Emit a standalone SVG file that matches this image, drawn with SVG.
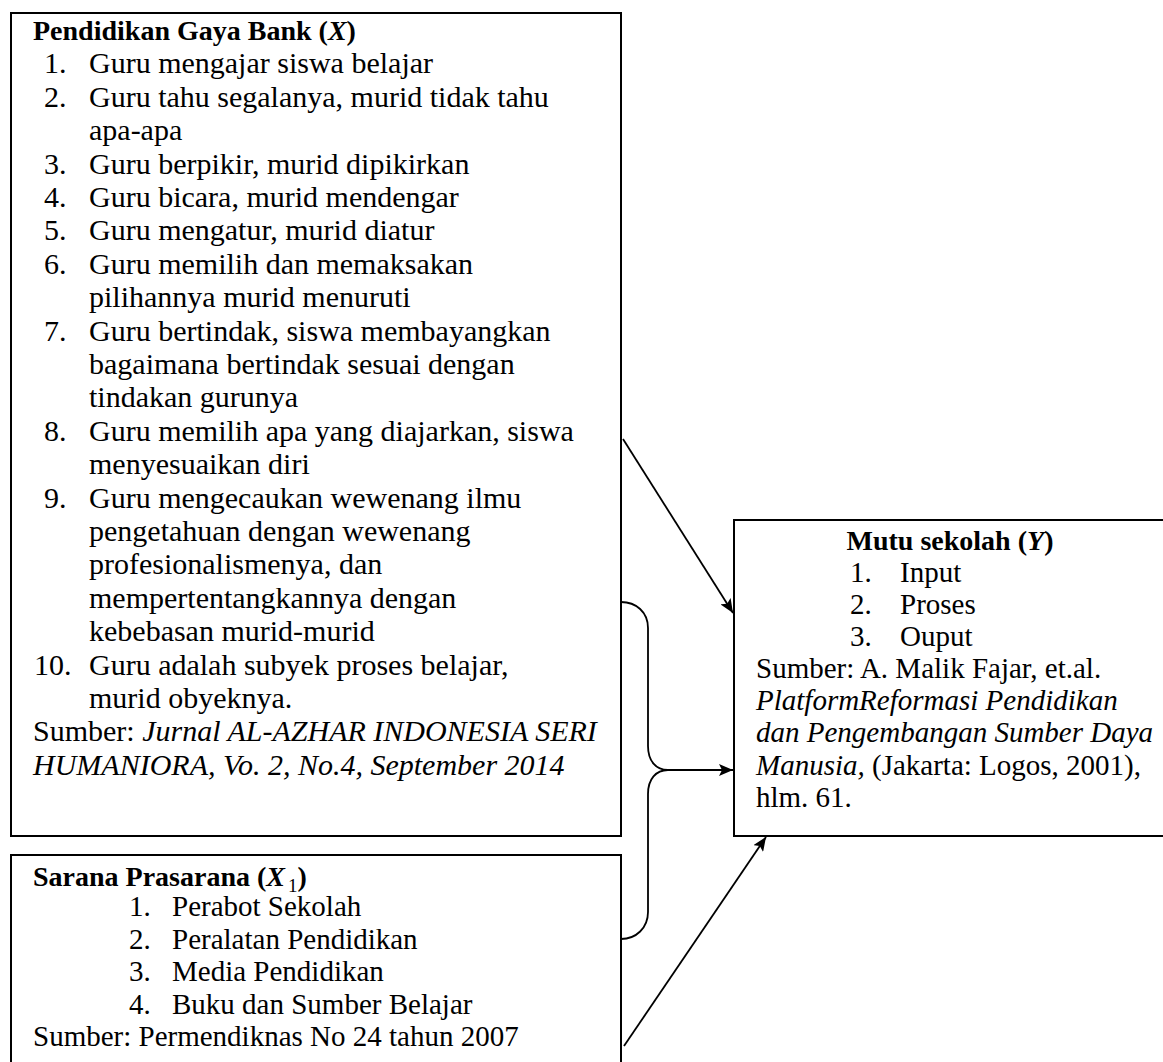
<svg xmlns="http://www.w3.org/2000/svg" width="1163" height="1062" viewBox="0 0 1163 1062">
<style>
.box{fill:#fff;stroke:#000;stroke-width:2}
text{font-family:"Liberation Serif","Times New Roman",serif;fill:#000}
.b1{font-size:30px}
.m{font-size:29px}
.t{font-size:28px;font-weight:bold}
.i{font-style:italic}
.con{fill:none;stroke:#000;stroke-width:1.8}
</style>
<defs>
<marker id="ah" markerUnits="userSpaceOnUse" markerWidth="16" markerHeight="12" refX="14" refY="6" orient="auto">
<path d="M0,0 L14,6 L0,12 L3,6 Z" fill="#000"/>
</marker>
</defs>
<rect width="1163" height="1062" fill="#fff"/>
<g id="node-x">
<rect class="box" x="11" y="13" width="610" height="823"/>
<text class="t" x="33" y="40">Pendidikan Gaya Bank (<tspan class="i">X</tspan>)</text>
<g class="b1">
<text x="44" y="73.4">1.</text><text x="89" y="73.4">Guru mengajar siswa belajar</text>
<text x="44" y="106.8">2.</text><text x="89" y="106.8">Guru tahu segalanya, murid tidak tahu</text>
<text x="89" y="140.2">apa-apa</text>
<text x="44" y="173.6">3.</text><text x="89" y="173.6">Guru berpikir, murid dipikirkan</text>
<text x="44" y="207">4.</text><text x="89" y="207">Guru bicara, murid mendengar</text>
<text x="44" y="240.4">5.</text><text x="89" y="240.4">Guru mengatur, murid diatur</text>
<text x="44" y="273.8">6.</text><text x="89" y="273.8">Guru memilih dan memaksakan</text>
<text x="89" y="307.2">pilihannya murid menuruti</text>
<text x="44" y="340.6">7.</text><text x="89" y="340.6">Guru bertindak, siswa membayangkan</text>
<text x="89" y="374">bagaimana bertindak sesuai dengan</text>
<text x="89" y="407.4">tindakan gurunya</text>
<text x="44" y="440.8">8.</text><text x="89" y="440.8">Guru memilih apa yang diajarkan, siswa</text>
<text x="89" y="474.2">menyesuaikan diri</text>
<text x="44" y="507.6">9.</text><text x="89" y="507.6">Guru mengecaukan wewenang ilmu</text>
<text x="89" y="541">pengetahuan dengan wewenang</text>
<text x="89" y="574.4">profesionalismenya, dan</text>
<text x="89" y="607.8">mempertentangkannya dengan</text>
<text x="89" y="641.2">kebebasan murid-murid</text>
<text x="34" y="674.6">10.</text><text x="89" y="674.6">Guru adalah subyek proses belajar,</text>
<text x="89" y="708">murid obyeknya.</text>
<text x="33" y="741.4">Sumber: <tspan class="i">Jurnal AL-AZHAR INDONESIA SERI</tspan></text>
<text x="33" y="774.8" class="i">HUMANIORA, Vo. 2, No.4, September 2014</text>
</g>
</g>
<g id="node-x1">
<rect class="box" x="11" y="855" width="610" height="220"/>
<text class="t" x="33" y="886">Sarana Prasarana (<tspan class="i">X</tspan><tspan font-weight="normal" font-size="19" dx="3" dy="6">1</tspan><tspan dy="-6">)</tspan></text>
<g class="m">
<text x="129" y="916">1.</text><text x="172" y="916">Perabot Sekolah</text>
<text x="129" y="948.5">2.</text><text x="172" y="948.5">Peralatan Pendidikan</text>
<text x="129" y="981">3.</text><text x="172" y="981">Media Pendidikan</text>
<text x="129" y="1013.5">4.</text><text x="172" y="1013.5">Buku dan Sumber Belajar</text>
<text x="33" y="1046">Sumber: Permendiknas No 24 tahun 2007</text>
</g>
</g>
<g id="node-y">
<rect class="box" x="734" y="520" width="440" height="316"/>
<text class="t" x="950" y="550" text-anchor="middle">Mutu sekolah (<tspan class="i">Y</tspan>)</text>
<g class="m">
<text x="850" y="582">1.</text><text x="900" y="582">Input</text>
<text x="850" y="614">2.</text><text x="900" y="614">Proses</text>
<text x="850" y="646">3.</text><text x="900" y="646">Ouput</text>
<text x="756" y="678">Sumber: A. Malik Fajar, et.al.</text>
<text x="756" y="710" class="i">PlatformReformasi Pendidikan</text>
<text x="756" y="742" class="i">dan Pengembangan Sumber Daya</text>
<text x="756" y="775"><tspan class="i">Manusia,</tspan> (Jakarta: Logos, 2001),</text>
<text x="756" y="807">hlm. 61.</text>
</g>
</g>
<g id="connectors">
<line class="con" x1="623" y1="439" x2="733" y2="613" marker-end="url(#ah)"/>
<path class="con" d="M621,602 C636,602 648,612 648,628 L648,746 C648,761 656,770 668,770 C656,770 648,779 648,794 L648,912 C648,928 636,939 621,939"/>
<line class="con" x1="668" y1="770" x2="733" y2="770" marker-end="url(#ah)"/>
<line class="con" x1="624" y1="1046" x2="766" y2="837" marker-end="url(#ah)"/>
</g>
</svg>
